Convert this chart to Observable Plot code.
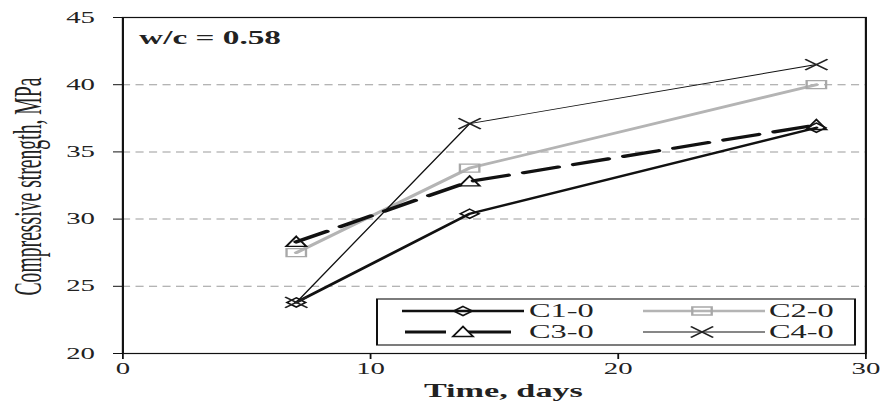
<!DOCTYPE html>
<html>
<head>
<meta charset="utf-8">
<script src="https://cdn.jsdelivr.net/npm/d3@7"></script>
<script src="https://cdn.jsdelivr.net/npm/@observablehq/plot@0.6"></script>
<style>
  html, body { margin: 0; padding: 0; background: #fff; }
  #chart { width: 882px; height: 403px; overflow: hidden; }
</style>
</head>
<body>
<div id="chart"></div>
<script>
// Compressive strength of the w/c = 0.58 mixes at 7, 14 and 28 days
const days = [7, 14, 28];
const seriesNames = ["C1-0", "C2-0", "C3-0", "C4-0"];
const c1 = [23.8, 30.4, 36.8];
const c2 = [27.5, 33.8, 40.0];
const c3 = [28.3, 32.8, 37.0];
const c4 = [23.8, 37.1, 41.5];
const xTicks = [0, 10, 20, 30];
const yTicks = [20, 25, 30, 35, 40, 45];
const gridValues = [25, 30, 35, 40];
const noteText = "w/c = 0.58";
const xLabel = "Time, days";
const yLabel = "Compressive strength, MPa";

// The figure is drawn in a narrow coordinate space and widened horizontally.
const stretch = 1.8;
const outW = 882, outH = 403;
const W = outW / stretch;
const font = "'Liberation Serif', 'Times New Roman', serif";

// Outline marker shapes with their own half-width / half-height
const diamond = (hw, hh) => ({draw(ctx) {
  ctx.moveTo(0, -hh); ctx.lineTo(hw, 0); ctx.lineTo(0, hh); ctx.lineTo(-hw, 0); ctx.closePath();
}});
const box = (hw, hh) => ({draw(ctx) {
  ctx.moveTo(-hw, -hh); ctx.lineTo(hw, -hh); ctx.lineTo(hw, hh); ctx.lineTo(-hw, hh); ctx.closePath();
}});
const triangle = (hw, hh) => ({draw(ctx) {
  ctx.moveTo(0, -hh * 1.1); ctx.lineTo(hw, hh * 0.9); ctx.lineTo(-hw, hh * 0.9); ctx.closePath();
}});
const cross = (hw, hh) => ({draw(ctx) {
  ctx.moveTo(-hw, -hh); ctx.lineTo(hw, hh); ctx.moveTo(hw, -hh); ctx.lineTo(-hw, hh);
}});

const styles = [
  {stroke: "#111", width: 2.3, dash: null, sym: diamond(5.2, 4.6), mStroke: "#111", mFill: "none"},
  {stroke: "#b4b4b4", width: 2.6, dash: null, sym: box(5.4, 4.0), mStroke: "#a8a8a8", mFill: "none"},
  {stroke: "#111", width: 3.2, dash: "20,9", sym: triangle(5.6, 5.0), mStroke: "#111", mFill: "none"},
  {stroke: "#111", width: 0.9, dash: null, sym: cross(6.2, 5.4), mStroke: "#222", mFill: "none"}
];
const values = [c1, c2, c3, c4];
const rows = values.map((vals, k) => days.map((d, i) => ({day: d, value: vals[i], series: seriesNames[k]})));

const lineMarks = rows.map((data, k) => Plot.line(data, {
  x: "day", y: "value",
  stroke: styles[k].stroke, strokeWidth: styles[k].width,
  strokeDasharray: styles[k].dash || undefined,
  strokeLinejoin: "miter"
}));
const dotMarks = rows.map((data, k) => Plot.dot(data, {
  x: "day", y: "value",
  symbol: styles[k].sym, r: 5,
  stroke: styles[k].mStroke, strokeWidth: 1.3, fill: styles[k].mFill
}));

const svg = Plot.plot({
  width: W, height: outH,
  marginLeft: 122 / stretch, marginRight: 17 / stretch, marginTop: 17, marginBottom: 50,
  x: {domain: [0, 30]},
  y: {domain: [20, 45]},
  style: {fontFamily: font, fontSize: "16px", color: "#222", background: "#fff"},
  marks: [
    Plot.ruleY(gridValues, {stroke: "#9c9c9c", strokeWidth: 1, strokeDasharray: "4.5,3"}),
    Plot.axisY({ticks: yTicks, tickSize: 5, tickPadding: 10.5, label: null, fontSize: 16, stroke: "#111"}),
    Plot.axisX({ticks: xTicks, tickSize: 6, tickPadding: 3, label: null, fontSize: 16, stroke: "#111"}),
    Plot.frame({stroke: "#111", strokeWidth: 1.2}),
    ...lineMarks,
    ...dotMarks,
    Plot.text([noteText], {frameAnchor: "top-left", dx: 9, dy: 21, textAnchor: "start", lineAnchor: "middle",
      fontWeight: "bold", fontSize: 18.5, fill: "#222"}),
    Plot.text([xLabel], {frameAnchor: "bottom", dx: 5, dy: 37, textAnchor: "middle", lineAnchor: "middle",
      fontWeight: "bold", fontSize: 19, fill: "#222"}),
    Plot.text([yLabel], {frameAnchor: "left", rotate: -90, dx: 15 - 122 / stretch, dy: 1,
      textAnchor: "middle", lineAnchor: "middle", fontSize: 22, fill: "#222"})
  ]
});

// Narrow the rotated axis title along its length
d3.select(svg).selectAll("text")
  .filter(function() { return this.textContent === yLabel; })
  .attr("textLength", 218).attr("lengthAdjust", "spacingAndGlyphs");

// Legend box in the lower right of the frame
const legend = d3.select(svg).append("g")
  .attr("font-family", font).attr("font-size", 18).attr("fill", "#222").attr("text-anchor", "start");
const lb = {x0: 377 / stretch, x1: 855 / stretch, y0: 299, y1: 345};
legend.append("rect")
  .attr("x", lb.x0).attr("y", lb.y0)
  .attr("width", lb.x1 - lb.x0).attr("height", lb.y1 - lb.y0)
  .attr("fill", "#fff").attr("stroke", "#111").attr("stroke-width", 1.1);
const cols = [
  {l0: 402 / stretch, l1: 524 / stretch, m: 463 / stretch, t: 529 / stretch},
  {l0: 643 / stretch, l1: 765 / stretch, m: 702 / stretch, t: 769 / stretch}
];
const rowsY = [311, 332];
seriesNames.forEach((name, k) => {
  const c = cols[k % 2], y = rowsY[Math.floor(k / 2)], s = styles[k];
  // the dashed sample is two dashes either side of its marker
  const x1 = s.dash ? 405 / stretch : c.l0;
  const x2 = s.dash ? 511 / stretch : c.l1;
  legend.append("line")
    .attr("x1", x1).attr("x2", x2).attr("y1", y).attr("y2", y)
    .attr("stroke", s.stroke).attr("stroke-width", s.width)
    .attr("stroke-dasharray", s.dash ? `${41 / stretch},${20 / stretch},${45 / stretch}` : null);
  legend.append("path")
    .attr("d", d3.symbol(s.sym)())
    .attr("transform", `translate(${c.m},${y})`)
    .attr("fill", k === 2 ? "#fff" : "none").attr("stroke", s.mStroke).attr("stroke-width", 1.3);
  legend.append("text")
    .attr("x", c.t).attr("y", y).attr("dy", "0.34em")
    .text(name);
});

svg.setAttribute("width", outW);
svg.setAttribute("height", outH);
svg.setAttribute("preserveAspectRatio", "none");
svg.style.width = outW + "px";
svg.style.height = outH + "px";
svg.style.maxWidth = "none";
document.getElementById("chart").appendChild(svg);
</script>
</body>
</html>
